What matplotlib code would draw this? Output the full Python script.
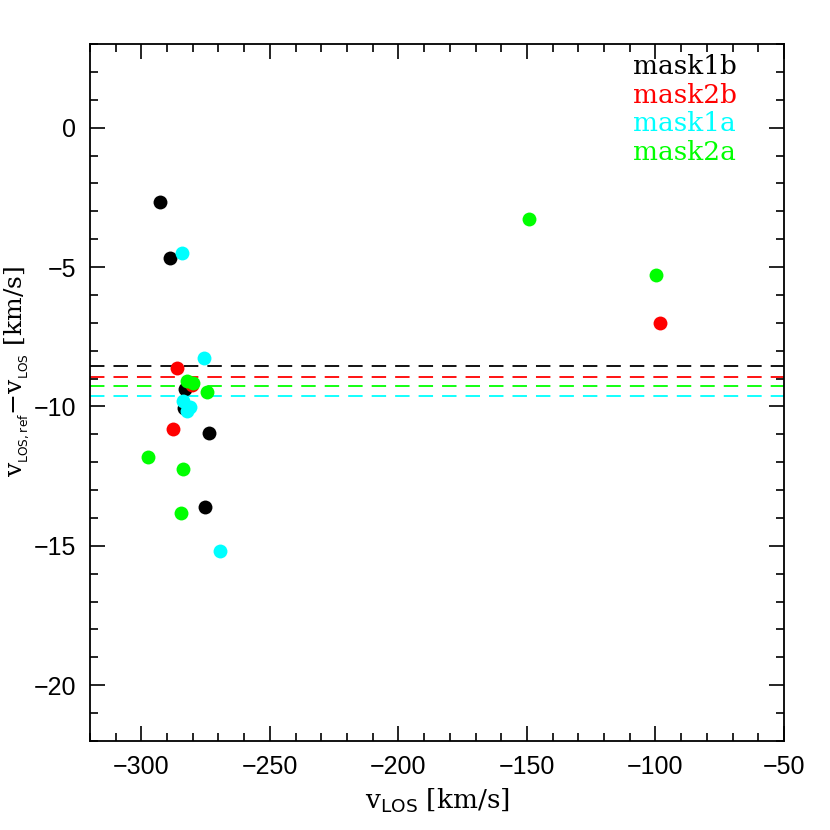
import numpy as np
import matplotlib.pyplot as plt
from matplotlib.ticker import MultipleLocator

plt.rcParams['mathtext.fontset'] = 'dejavuserif'

# data
mask1b_x = [-292.8, -288.9, -283.0, -283.5, -273.7, -275.3]
mask1b_y = [-2.66, -4.67, -9.37, -10.05, -10.95, -13.6]
mask2b_x = [-286.3, -287.8, -280.4, -98.2]
mask2b_y = [-8.63, -10.8, -9.22, -7.0]
mask1a_x = [-284.2, -275.6, -269.4, -283.7, -281.1, -282.4]
mask1a_y = [-4.49, -8.26, -15.2, -9.79, -10.03, -10.18]
mask2a_x = [-149.2, -99.8, -297.5, -283.7, -284.6, -274.4, -282.4, -280.0]
mask2a_y = [-3.27, -5.28, -11.83, -12.25, -13.83, -9.49, -9.07, -9.16]

# mean offsets (dashed lines)
means = {'mask1b': -8.54, 'mask2b': -8.93, 'mask2a': -9.28, 'mask1a': -9.64}

colors = {'mask1b': 'black', 'mask2b': '#ff0000',
          'mask1a': '#00ffff', 'mask2a': '#00ff00'}

fig = plt.figure(figsize=(8.3, 8.3), dpi=100)
ax = fig.add_axes([0.1084, 0.1072, 0.8362, 0.8398])

for name in ['mask1b', 'mask2b', 'mask2a', 'mask1a']:
    ax.axhline(means[name], color=colors[name], ls=(0, (8, 5)), lw=1.3)

ax.plot(mask1b_x, mask1b_y, 'o', color=colors['mask1b'], ms=10, mec='none')
ax.plot(mask2b_x, mask2b_y, 'o', color=colors['mask2b'], ms=10, mec='none')
ax.plot(mask1a_x, mask1a_y, 'o', color=colors['mask1a'], ms=10, mec='none')
ax.plot(mask2a_x, mask2a_y, 'o', color=colors['mask2a'], ms=10, mec='none')

ax.set_xlim(-320, -50)
ax.set_ylim(-22, 3)
ax.xaxis.set_major_locator(MultipleLocator(50))
ax.xaxis.set_minor_locator(MultipleLocator(10))
ax.yaxis.set_major_locator(MultipleLocator(5))
ax.yaxis.set_minor_locator(MultipleLocator(1))
ax.tick_params(which='both', direction='in', top=True, right=True, width=1.2)
ax.tick_params(which='major', length=11, labelsize=18, pad=10)
ax.tick_params(which='minor', length=6)
for lab in ax.get_xticklabels() + ax.get_yticklabels():
    lab.set_family('Liberation Sans')
for s in ax.spines.values():
    s.set_linewidth(1.3)

ax.set_xlabel(r'$\mathrm{v}_{\mathsf{LOS}}$ [km/s]', family='DejaVu Serif',
              fontsize=19, labelpad=6)
ax.set_ylabel(r'$\mathrm{v}_{{}_{\mathsf{LOS,ref}}}{-}\mathrm{v}_{{}_{\mathsf{LOS}}}$ [km/s]',
              family='DejaVu Serif', fontsize=18)
ax.yaxis.set_label_coords(-0.084, 0.53)

names = ['mask1b', 'mask2b', 'mask1a', 'mask2a']
for i, name in enumerate(names):
    ax.text(0.782, 0.968 - i * 0.0412, name, color=colors[name], transform=ax.transAxes,
            fontsize=19, family='DejaVu Serif', va='center')

fig.savefig('out.png', dpi=100)
